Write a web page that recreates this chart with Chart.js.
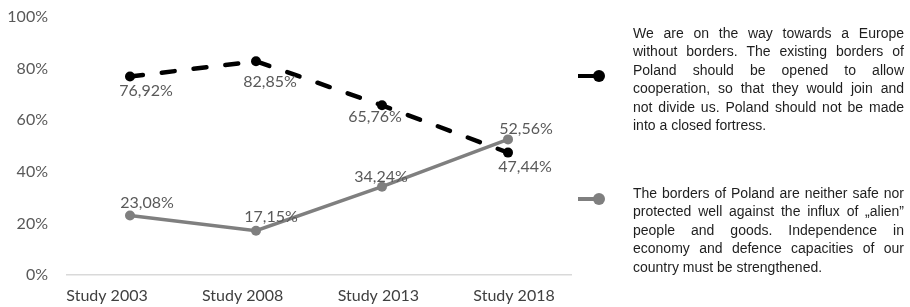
<!DOCTYPE html>
<html>
<head>
<meta charset="utf-8">
<script src="https://cdn.jsdelivr.net/npm/chart.js@4.4.1/dist/chart.umd.min.js"></script>
<style>
  html, body { margin: 0; padding: 0; background: #fff; }
  #wrap { position: relative; width: 910px; height: 307px; overflow: hidden; }
  #chart_box { position: absolute; left: 0; top: 0; width: 590px; height: 307px; }
  .lg-line { position: absolute; height: 4px; }
  .lg-dot { position: absolute; width: 12px; height: 12px; border-radius: 50%; }
  .lg-text { position: absolute; left: 633px; width: 271px; font-family: "Liberation Sans", Arial, sans-serif;
             font-size: 14px; line-height: 18.4px; color: #1e1e1e; }
  .lg-text div { text-align: justify; text-align-last: justify; white-space: nowrap; }
  .lg-text div:last-child { text-align-last: left; }
</style>
</head>
<body>
<div id="wrap">
  <div id="chart_box"><canvas id="chart_div0"></canvas></div>
  <div id="legend"></div>
</div>
<script>
// categories and series
const studies = ['Study 2003', 'Study 2008', 'Study 2013', 'Study 2018'];
const openBorders = [76.92, 82.85, 65.76, 47.44];
const closedBorders = [23.08, 17.15, 34.24, 52.56];
const yTicks = [0, 20, 40, 60, 80, 100];

const openLabel = [
  'We are on the way towards a Europe',
  'without borders. The existing borders of',
  'Poland should be opened to allow',
  'cooperation, so that they would join and',
  'not divide us. Poland should not be made',
  'into a closed fortress.'
];
const closedLabel = [
  'The borders of Poland are neither safe nor',
  'protected well against the influx of \u201Ealien\u201D',
  'people and goods. Independence in',
  'economy and defence capacities of our',
  'country must be strengthened.'
];

// where each value label sits relative to its point (dx, dy)
const labelShift = [
  [[16, 14], [14, 21], [-7, 12], [17, 14]],
  [[17, -13], [15, -14], [-1, -10], [18, -11]]
];

const fmtPct = v => v.toFixed(2).replace('.', ',') + '%';

const valueLabels = {
  id: 'valueLabels',
  afterDatasetsDraw(chart) {
    const ctx = chart.ctx;
    ctx.save();
    ctx.font = '16px Lato';
    ctx.fillStyle = '#595959';
    ctx.textAlign = 'center';
    ctx.textBaseline = 'middle';
    chart.data.datasets.forEach((ds, di) => {
      chart.getDatasetMeta(di).data.forEach((pt, i) => {
        const s = labelShift[di][i];
        ctx.fillText(fmtPct(ds.data[i]), pt.x + s[0], pt.y + s[1]);
      });
    });
    ctx.restore();
  }
};

Chart.defaults.font.family = 'Lato';

const chart = new Chart(document.getElementById('chart_div0'), {
  type: 'line',
  data: {
    labels: studies,
    datasets: [{
      label: openLabel,
      data: openBorders,
      borderColor: '#000',
      backgroundColor: '#000',
      borderWidth: 4.5,
      borderDash: [13, 19],
      borderCapStyle: 'round',
      pointRadius: 5,
      pointBorderWidth: 0,
      pointBackgroundColor: '#000',
      tension: 0
    }, {
      label: closedLabel,
      data: closedBorders,
      borderColor: '#7f7f7f',
      backgroundColor: '#7f7f7f',
      borderWidth: 3.5,
      pointRadius: 5,
      pointBorderWidth: 0,
      pointBackgroundColor: '#7f7f7f',
      tension: 0
    }]
  },
  options: {
    responsive: true,
    maintainAspectRatio: false,
    animation: false,
    layout: { padding: { top: 17, right: 19, left: 0, bottom: 0 } },
    plugins: { legend: { display: false }, tooltip: { enabled: false } },
    scales: {
      x: { type: 'category', display: false, offset: true },
      // separate axis only for the category names, which sit a bit wider apart than the points
      x2: {
        type: 'linear',
        axis: 'x',
        position: 'bottom',
        min: -0.295,
        max: 3.42,
        afterBuildTicks: s => { s.ticks = studies.map((_, i) => ({ value: i })); },
        afterFit: s => { s.height = 32; },
        grid: { display: false, drawTicks: false },
        border: { display: true, color: '#d9d9d9', width: 1.5 },
        ticks: {
          padding: 11,
          maxRotation: 0,
          autoSkip: false,
          color: '#404040',
          font: { size: 16 },
          callback: (v, i) => studies[i]
        }
      },
      y: {
        min: yTicks[0],
        max: yTicks[yTicks.length - 1],
        afterFit: s => { s.width = 67; s.paddingTop = 0; s.paddingBottom = 0; },
        afterBuildTicks: s => { s.ticks = yTicks.map(v => ({ value: v })); },
        grid: { display: false, drawTicks: false },
        border: { display: false },
        ticks: {
          padding: 19,
          color: '#595959',
          font: { size: 16 },
          callback: v => v + '%'
        }
      }
    }
  },
  plugins: [valueLabels]
});

// custom legend on the right, built from the datasets
const legendBox = document.getElementById('legend');
const legendPos = [{ marker: 76, text: 24 }, { marker: 199, text: 184 }];
chart.data.datasets.forEach((ds, i) => {
  const p = legendPos[i];
  const line = document.createElement('div');
  line.className = 'lg-line';
  line.style.left = '578px';
  line.style.width = '20px';
  line.style.top = (p.marker - 2) + 'px';
  line.style.background = ds.borderColor;
  const dot = document.createElement('div');
  dot.className = 'lg-dot';
  dot.style.left = '593px';
  dot.style.top = (p.marker - 6) + 'px';
  dot.style.background = ds.pointBackgroundColor;
  const txt = document.createElement('div');
  txt.className = 'lg-text';
  txt.style.top = p.text + 'px';
  ds.label.forEach(l => {
    const row = document.createElement('div');
    row.textContent = l;
    txt.appendChild(row);
  });
  legendBox.append(line, dot, txt);
});
</script>
</body>
</html>
